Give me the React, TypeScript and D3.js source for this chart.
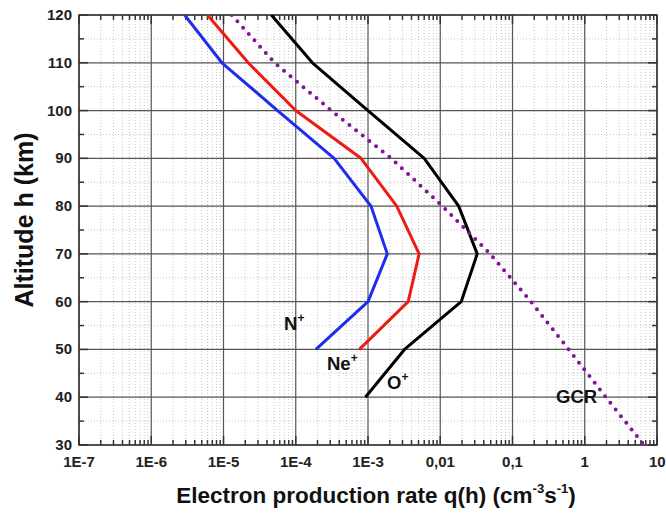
import React, { useEffect, useRef } from 'react';
import * as d3 from 'd3';

// altitude (km) and electron production rates (cm^-3 s^-1)
const altitudes = [120, 110, 100, 90, 80, 70, 60, 50, 40];
const nPlus = [2.9e-6, 9.5e-6, 5.6e-5, 3.4e-4, 1.1e-3, 1.85e-3, 1.0e-3, 1.9e-4];
const nePlus = [6.0e-6, 2.2e-5, 1.0e-4, 8.0e-4, 2.5e-3, 5.1e-3, 3.6e-3, 7.6e-4];
const oPlus = [4.6e-5, 1.7e-4, 1.0e-3, 6.0e-3, 0.018, 0.0325, 0.0195, 3.2e-3, 9.2e-4];
const gcrAltitudes = [120, 110, 100, 90, 80, 70, 60, 50, 40, 30];
const gcr = [1.3e-5, 5.1e-5, 3.1e-4, 2.1e-3, 0.0107, 0.049, 0.18, 0.6, 1.96, 6.6];

const xTickLabels = ['1E-7', '1E-6', '1E-5', '1E-4', '1E-3', '0,01', '0,1', '1', '10'];
const yTicks = [30, 40, 50, 60, 70, 80, 90, 100, 110, 120];

const FONT = '"Liberation Sans", Arial, sans-serif';

function Chart() {
  const ref = useRef<SVGSVGElement>(null);

  useEffect(() => {
    const svg = d3.select(ref.current);
    svg.selectAll('*').remove();

    const width = 666;
    const height = 514;
    const margin = { top: 15, right: 9, bottom: 69, left: 79 };

    const x = d3
      .scaleLog()
      .domain([1e-7, 10])
      .range([margin.left, width - margin.right]);
    const y = d3
      .scaleLinear()
      .domain([30, 120])
      .range([height - margin.bottom, margin.top]);

    const x0 = margin.left;
    const x1 = width - margin.right;
    const y0 = height - margin.bottom;
    const y1 = margin.top;

    const majors = xTickLabels.map((_, i) => Math.pow(10, i - 7));
    const minors: number[] = [];
    majors.slice(0, -1).forEach((m) => {
      for (let k = 2; k <= 9; k++) minors.push(m * k);
    });
    const yMinor = d3.range(35, 120, 10);

    const g = svg.append('g');

    // minor grid
    g.selectAll('.vminor')
      .data(minors)
      .join('line')
      .attr('x1', (d) => x(d))
      .attr('x2', (d) => x(d))
      .attr('y1', y1)
      .attr('y2', y0)
      .attr('stroke', '#c8c8c8')
      .attr('stroke-width', 1)
      .attr('stroke-dasharray', '1 2');
    g.selectAll('.hminor')
      .data(yMinor)
      .join('line')
      .attr('x1', x0)
      .attr('x2', x1)
      .attr('y1', (d) => y(d))
      .attr('y2', (d) => y(d))
      .attr('stroke', '#c8c8c8')
      .attr('stroke-width', 1)
      .attr('stroke-dasharray', '1 2');

    // major grid
    g.selectAll('.vmajor')
      .data(majors)
      .join('line')
      .attr('x1', (d) => x(d))
      .attr('x2', (d) => x(d))
      .attr('y1', y1)
      .attr('y2', y0)
      .attr('stroke', '#555')
      .attr('stroke-width', 1.2);
    g.selectAll('.hmajor')
      .data(yTicks)
      .join('line')
      .attr('x1', x0)
      .attr('x2', x1)
      .attr('y1', (d) => y(d))
      .attr('y2', (d) => y(d))
      .attr('stroke', '#555')
      .attr('stroke-width', 1.2);

    // ticks (inward)
    const tickG = svg.append('g').attr('stroke', '#333').attr('stroke-width', 1.5);
    [y0, y1].forEach((yy) => {
      const dir = yy === y0 ? -1 : 1;
      minors.forEach((m) =>
        tickG.append('line').attr('x1', x(m)).attr('x2', x(m)).attr('y1', yy).attr('y2', yy + dir * 5)
      );
      majors.forEach((m) =>
        tickG.append('line').attr('x1', x(m)).attr('x2', x(m)).attr('y1', yy).attr('y2', yy + dir * 9)
      );
    });
    [x0, x1].forEach((xx) => {
      const dir = xx === x0 ? 1 : -1;
      yMinor.forEach((v) =>
        tickG.append('line').attr('x1', xx).attr('x2', xx + dir * 5).attr('y1', y(v)).attr('y2', y(v))
      );
      yTicks.forEach((v) =>
        tickG.append('line').attr('x1', xx).attr('x2', xx + dir * 9).attr('y1', y(v)).attr('y2', y(v))
      );
    });

    // frame
    svg
      .append('rect')
      .attr('x', x0)
      .attr('y', y1)
      .attr('width', x1 - x0)
      .attr('height', y0 - y1)
      .attr('fill', 'none')
      .attr('stroke', '#333')
      .attr('stroke-width', 1.5);

    // tick labels
    svg
      .append('g')
      .selectAll('text')
      .data(majors)
      .join('text')
      .attr('x', (d, i) => (i === majors.length - 1 ? x(d) - 8 : x(d)))
      .attr('y', y0 + 22)
      .attr('text-anchor', (_, i) => (i === majors.length - 1 ? 'start' : 'middle'))
      .attr('font-family', FONT)
      .attr('font-weight', 'bold')
      .attr('font-size', 15)
      .attr('fill', '#222')
      .text((_, i) => xTickLabels[i]);
    svg
      .append('g')
      .selectAll('text')
      .data(yTicks)
      .join('text')
      .attr('x', x0 - 7)
      .attr('y', (d) => y(d) + 5)
      .attr('text-anchor', 'end')
      .attr('font-family', FONT)
      .attr('font-weight', 'bold')
      .attr('font-size', 15)
      .attr('fill', '#222')
      .text((d) => d);

    // curves
    svg
      .append('clipPath')
      .attr('id', 'plotclip')
      .append('rect')
      .attr('x', x0)
      .attr('y', y1)
      .attr('width', x1 - x0)
      .attr('height', y0 - y1);

    const line = d3
      .line<[number, number]>()
      .x((d) => x(d[0]))
      .y((d) => y(d[1]));

    const series = [
      { values: nPlus, alts: altitudes, color: '#1f2bf0' },
      { values: nePlus, alts: altitudes, color: '#f01a14' },
      { values: oPlus, alts: altitudes, color: '#000' },
    ];
    const curves = svg.append('g').attr('clip-path', 'url(#plotclip)');
    series.forEach((s) => {
      curves
        .append('path')
        .datum(s.values.map((v, i) => [v, s.alts[i]] as [number, number]))
        .attr('d', line)
        .attr('fill', 'none')
        .attr('stroke', s.color)
        .attr('stroke-width', 3)
        .attr('stroke-linejoin', 'round');
    });
    curves
      .append('path')
      .datum(gcr.map((v, i) => [v, gcrAltitudes[i]] as [number, number]))
      .attr('d', line)
      .attr('fill', 'none')
      .attr('stroke', '#7a1a8c')
      .attr('stroke-width', 4)
      .attr('stroke-linecap', 'round')
      .attr('stroke-dasharray', '0 8.5');

    // curve labels
    const labels = [
      { text: 'N', sup: '+', x: 284, y: 330 },
      { text: 'Ne', sup: '+', x: 327, y: 370 },
      { text: 'O', sup: '+', x: 387, y: 389 },
      { text: 'GCR', sup: '', x: 556, y: 403 },
    ];
    labels.forEach((l) => {
      const t = svg
        .append('text')
        .attr('x', l.x)
        .attr('y', l.y)
        .attr('font-family', FONT)
        .attr('font-weight', 'bold')
        .attr('font-size', 18.5)
        .attr('fill', '#111')
        .text(l.text);
      if (l.sup) {
        t.append('tspan').attr('dy', -8).attr('font-size', 12).text(l.sup);
      }
    });

    // axis titles
    const xt = svg
      .append('text')
      .attr('x', 376)
      .attr('y', 503)
      .attr('text-anchor', 'middle')
      .attr('font-family', FONT)
      .attr('font-weight', 'bold')
      .attr('font-size', 22.5)
      .attr('fill', '#111')
      .text('Electron production rate q(h) (cm');
    xt.append('tspan').attr('dy', -10).attr('font-size', 13).text('-3');
    xt.append('tspan').attr('dy', 10).text('s');
    xt.append('tspan').attr('dy', -10).attr('font-size', 13).text('-1');
    xt.append('tspan').attr('dy', 10).text(')');

    svg
      .append('text')
      .attr('transform', 'translate(33,220) rotate(-90)')
      .attr('text-anchor', 'middle')
      .attr('font-family', FONT)
      .attr('font-weight', 'bold')
      .attr('font-size', 25)
      .attr('fill', '#111')
      .text('Altitude h (km)');
  }, []);

  return <svg ref={ref} width={666} height={514} style={{ display: 'block' }} />;
}

export default function App() {
  return (
    <div style={{ position: 'absolute', left: 0, top: 0, width: 666, height: 514 }}>
      <Chart />
    </div>
  );
}
